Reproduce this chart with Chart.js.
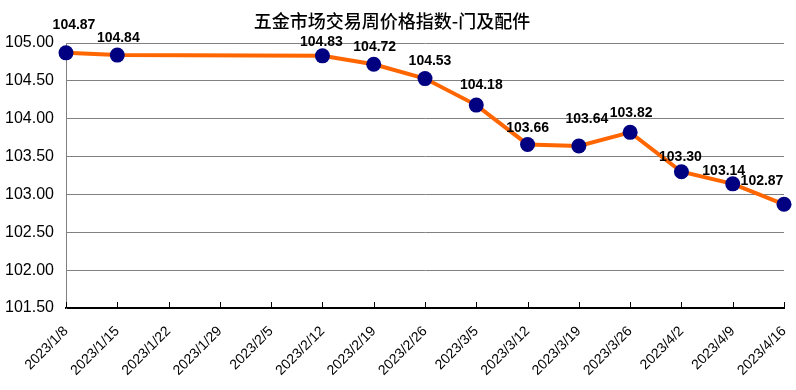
<!DOCTYPE html>
<html>
<head>
<meta charset="utf-8">
<script src="https://cdn.jsdelivr.net/npm/chart.js@4"></script>
<style>
  body { margin: 0; background: #fff; }
  #wrap { width: 796px; height: 390px; position: relative; }
</style>
</head>
<body>
<div id="wrap"><canvas id="priceChart"></canvas></div>
<script>
const chartTitle = "五金市场交易周价格指数-门及配件";

const weeks = [
  "2023/1/8", "2023/1/15", "2023/1/22", "2023/1/29", "2023/2/5",
  "2023/2/12", "2023/2/19", "2023/2/26", "2023/3/5", "2023/3/12",
  "2023/3/19", "2023/3/26", "2023/4/2", "2023/4/9", "2023/4/16",
];

// no values published for 1/22 - 2/5, line just spans the gap
const priceIndex = [
  104.87, 104.84, null, null, null,
  104.83, 104.72, 104.53, 104.18, 103.66,
  103.64, 103.82, 103.30, 103.14, 102.87,
];

const yMin = 101.5;
const yMax = 105.0;
const yStep = 0.5;

// where each value label sits relative to its point (dx, dy)
const labelShift = [
  [8, -28], [1, -17], null, null, null,
  [-1, -14], [1, -17], [5, -17], [5, -20], [0, -16],
  [8, -27], [1, -19], [-1, -15], [-9, -13], [-22, -23],
];

const ctx = document.getElementById("priceChart").getContext("2d");

// value labels above the points
const valueLabels = {
  id: "valueLabels",
  afterDatasetsDraw(chart) {
    const meta = chart.getDatasetMeta(0);
    const c = chart.ctx;
    c.save();
    c.font = "bold 14px 'Liberation Sans', Arial, sans-serif";
    c.fillStyle = "#000";
    c.textAlign = "center";
    c.textBaseline = "middle";
    meta.data.forEach((pt, i) => {
      const v = priceIndex[i];
      if (v === null || pt.skip) return;
      const [dx, dy] = labelShift[i] || [0, -18];
      c.fillText(v.toFixed(2), pt.x + dx, pt.y + dy);
    });
    c.restore();
  },
};

// small tick marks pointing up into the plot, like the original
const innerTicks = {
  id: "innerTicks",
  afterDraw(chart) {
    const xs = chart.scales.x;
    const c = chart.ctx;
    const bottom = chart.chartArea.bottom;
    c.save();
    c.strokeStyle = "#000";
    c.lineWidth = 1;
    xs.ticks.forEach((t, i) => {
      const x = Math.round(xs.getPixelForTick(i)) + 0.5;
      c.beginPath();
      c.moveTo(x, bottom);
      c.lineTo(x, bottom - 6);
      c.stroke();
    });
    c.restore();
  },
};

new Chart(ctx, {
  type: "line",
  data: {
    labels: weeks,
    datasets: [
      {
        label: chartTitle,
        data: priceIndex,
        spanGaps: true,
        borderColor: "#FF6600",
        borderWidth: 4,
        tension: 0,
        pointRadius: 7.5,
        pointHoverRadius: 7.5,
        pointBackgroundColor: "#000080",
        pointBorderWidth: 0,
        clip: false,
      },
    ],
  },
  options: {
    responsive: true,
    maintainAspectRatio: false,
    animation: false,
    layout: { padding: { left: 0, right: 12, top: 0, bottom: 0 } },
    scales: {
      x: {
        offset: false,
        afterFit(scale) {
          scale.height = 82;
          scale.paddingLeft = 0;
          scale.paddingRight = 0;
        },
        grid: { display: false, drawTicks: true, tickLength: 8 },
        border: { display: true, color: "#000", width: 2 },
        ticks: {
          color: "#000",
          font: { family: "'Liberation Sans', Arial, sans-serif", size: 14 },
          minRotation: 45,
          maxRotation: 45,
          padding: 7,
          autoSkip: false,
        },
      },
      y: {
        min: yMin,
        max: yMax,
        afterFit(scale) {
          scale.width = 66;
        },
        border: { display: true, color: "#808080", width: 1 },
        grid: { color: "#808080", drawTicks: false },
        ticks: {
          stepSize: yStep,
          color: "#000",
          padding: 12,
          font: { family: "'Liberation Sans', Arial, sans-serif", size: 16 },
          callback: (v) => Number(v).toFixed(2),
        },
      },
    },
    plugins: {
      legend: { display: false },
      tooltip: { enabled: false },
      title: {
        display: true,
        text: chartTitle,
        color: "#000",
        font: { family: "'Noto Sans CJK SC', sans-serif", size: 18, weight: "500" },
        padding: { top: 10, bottom: 11.4 },
      },
    },
  },
  plugins: [valueLabels, innerTicks],
});
</script>
</body>
</html>
